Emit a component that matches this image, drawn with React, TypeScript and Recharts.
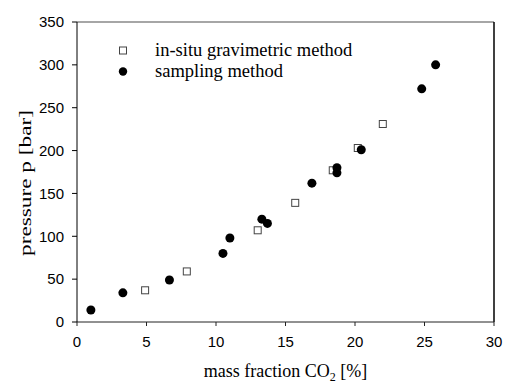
import React from 'react'
import {
  ScatterChart,
  Scatter,
  XAxis,
  YAxis,
  Legend,
  ReferenceLine,
} from 'recharts'

// in-situ gravimetric method (open squares)
const gravX = [4.9, 7.9, 13.0, 15.7, 18.4, 20.2, 22.0]
const gravP = [37, 59, 107, 139, 177, 203, 231]

// sampling method (filled circles)
const sampX = [1.0, 3.3, 6.65, 10.5, 11.0, 13.3, 13.7, 16.9, 18.7, 18.7, 20.45, 24.8, 25.8]
const sampP = [14, 34, 49, 80, 98, 120, 115, 162, 180, 174, 201, 272, 300]

const xTicks = [0, 5, 10, 15, 20, 25, 30]
const yTicks = [0, 50, 100, 150, 200, 250, 300, 350]

const gravData = gravX.map((x, i) => ({ x, p: gravP[i] }))
const sampData = sampX.map((x, i) => ({ x, p: sampP[i] }))

const serif = '"Liberation Serif", "Times New Roman", serif'
const sans = '"Liberation Sans", Arial, sans-serif'

const SquareDot = (props: any) => {
  const { cx, cy } = props
  if (cx == null || cy == null) return null
  return <rect x={cx - 3.5} y={cy - 3.5} width={7} height={7} fill="#fff" stroke="#444" strokeWidth={1} />
}

const CircleDot = (props: any) => {
  const { cx, cy } = props
  if (cx == null || cy == null) return null
  return <circle cx={cx} cy={cy} r={4.5} fill="#000" />
}

function LegendBox({ payload }: any) {
  return (
    <div style={{ fontFamily: serif, fontSize: 18.5, color: '#000', lineHeight: '21px' }}>
      {(payload ?? []).map((entry: any) => (
        <div key={entry.value} style={{ display: 'flex', alignItems: 'center', height: 21 }}>
          <svg width={45} height={21} style={{ flex: 'none' }}>
            {entry.type === 'square' ? (
              <rect x={9.5} y={7} width={7} height={7} fill="#fff" stroke="#444" />
            ) : (
              <circle cx={13} cy={10.5} r={4.2} fill="#000" />
            )}
          </svg>
          <span style={{ whiteSpace: 'nowrap' }}>{entry.value}</span>
        </div>
      ))}
    </div>
  )
}

// the source figure is a bit stretched vertically, so the rotated title runs longer
function YLabel() {
  const cx = 25
  const cy = 183
  return (
    <text
      x={cx}
      y={cy}
      transform={`rotate(-90, ${cx}, ${cy})`}
      textAnchor="middle"
      dominantBaseline="central"
      fontFamily={serif}
      fontSize={17}
      textLength={146}
      lengthAdjust="spacingAndGlyphs"
      fill="#000"
    >
      pressure p [bar]
    </text>
  )
}

function XLabel({ viewBox }: any) {
  const cx = viewBox.x + viewBox.width / 2
  return (
    <text x={cx} y={377} textAnchor="middle" fontFamily={serif} fontSize={18} fill="#000">
      mass fraction CO<tspan fontSize={12} dy={4}>2</tspan>
      <tspan dy={-4}> [%]</tspan>
    </text>
  )
}

export default function App() {
  return (
    <div style={{ position: 'absolute', left: 0, top: 0, background: '#fff' }}>
      <ScatterChart width={505} height={385} margin={{ top: 22, right: 11, bottom: 0, left: 0 }}>
        <XAxis
          type="number"
          dataKey="x"
          domain={[0, 30]}
          ticks={xTicks}
          height={63}
          tickSize={4}
          tickMargin={10}
          stroke="#222"
          tick={{ fontFamily: sans, fontSize: 15, fill: '#000' }}
          label={<XLabel />}
        />
        <YAxis
          type="number"
          dataKey="p"
          domain={[0, 350]}
          ticks={yTicks}
          width={77}
          tickSize={5}
          tickMargin={8}
          stroke="#000"
          tick={{ fontFamily: sans, fontSize: 15, fill: '#000' }}
          label={<YLabel />}
        />
        <ReferenceLine y={350} stroke="#888" strokeWidth={1.5} />
        <ReferenceLine x={30} stroke="#000" strokeWidth={1.5} />
        <Legend
          layout="horizontal"
          verticalAlign="middle"
          align="center"
          content={<LegendBox />}
          wrapperStyle={{ top: 40, left: 110, width: 300, height: 42 }}
        />
        <Scatter
          name="in-situ gravimetric method"
          data={gravData}
          legendType="square"
          shape={<SquareDot />}
          isAnimationActive={false}
        />
        <Scatter
          name="sampling method"
          data={sampData}
          legendType="circle"
          shape={<CircleDot />}
          isAnimationActive={false}
        />
      </ScatterChart>
    </div>
  )
}
